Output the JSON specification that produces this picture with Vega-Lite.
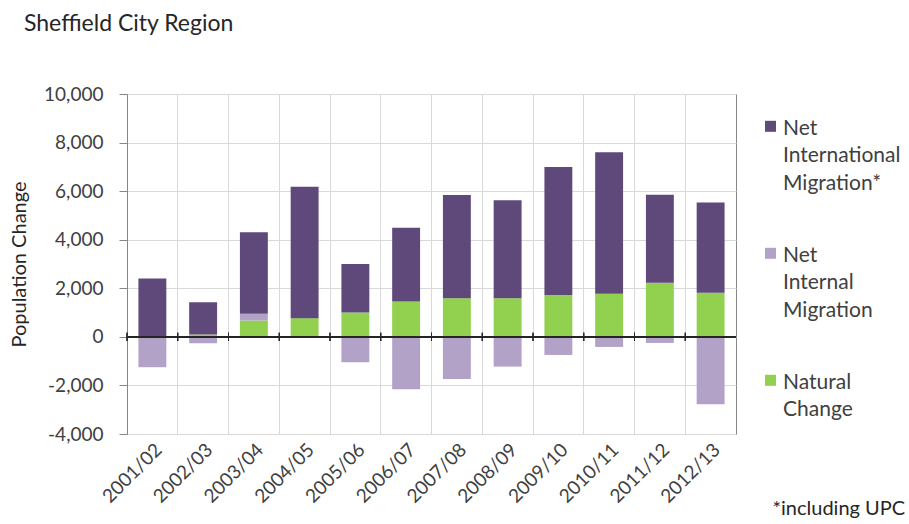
{
  "$schema": "https://vega.github.io/schema/vega-lite/v6.json",
  "width": 609,
  "height": 340,
  "autosize": "none",
  "padding": {"left": 127, "top": 94, "right": 173, "bottom": 90},
  "background": "white",
  "title": {
    "text": "Sheffield City Region",
    "anchor": "start",
    "frame": "group",
    "dx": -103,
    "offset": 49,
    "fontSize": 23,
    "fontWeight": "normal",
    "color": "#262626",
    "font": "Lato"
  },
  "data": {
    "values": [
      {"year": "2001/02", "component": "Natural Change", "value": 0},
      {"year": "2001/02", "component": "Net Internal Migration", "value": -1250},
      {"year": "2001/02", "component": "Net International Migration*", "value": 2400},
      {"year": "2002/03", "component": "Natural Change", "value": 100},
      {"year": "2002/03", "component": "Net Internal Migration", "value": -260},
      {"year": "2002/03", "component": "Net International Migration*", "value": 1330},
      {"year": "2003/04", "component": "Natural Change", "value": 670},
      {"year": "2003/04", "component": "Net Internal Migration", "value": 280},
      {"year": "2003/04", "component": "Net International Migration*", "value": 3360},
      {"year": "2004/05", "component": "Natural Change", "value": 770},
      {"year": "2004/05", "component": "Net Internal Migration", "value": -30},
      {"year": "2004/05", "component": "Net International Migration*", "value": 5415},
      {"year": "2005/06", "component": "Natural Change", "value": 1000},
      {"year": "2005/06", "component": "Net Internal Migration", "value": -1045},
      {"year": "2005/06", "component": "Net International Migration*", "value": 2000},
      {"year": "2006/07", "component": "Natural Change", "value": 1460},
      {"year": "2006/07", "component": "Net Internal Migration", "value": -2160},
      {"year": "2006/07", "component": "Net International Migration*", "value": 3030},
      {"year": "2007/08", "component": "Natural Change", "value": 1585},
      {"year": "2007/08", "component": "Net Internal Migration", "value": -1735},
      {"year": "2007/08", "component": "Net International Migration*", "value": 4255},
      {"year": "2008/09", "component": "Natural Change", "value": 1585},
      {"year": "2008/09", "component": "Net Internal Migration", "value": -1225},
      {"year": "2008/09", "component": "Net International Migration*", "value": 4045},
      {"year": "2009/10", "component": "Natural Change", "value": 1720},
      {"year": "2009/10", "component": "Net Internal Migration", "value": -745},
      {"year": "2009/10", "component": "Net International Migration*", "value": 5275},
      {"year": "2010/11", "component": "Natural Change", "value": 1775},
      {"year": "2010/11", "component": "Net Internal Migration", "value": -415},
      {"year": "2010/11", "component": "Net International Migration*", "value": 5825},
      {"year": "2011/12", "component": "Natural Change", "value": 2230},
      {"year": "2011/12", "component": "Net Internal Migration", "value": -250},
      {"year": "2011/12", "component": "Net International Migration*", "value": 3625},
      {"year": "2012/13", "component": "Natural Change", "value": 1815},
      {"year": "2012/13", "component": "Net Internal Migration", "value": -2770},
      {"year": "2012/13", "component": "Net International Migration*", "value": 3720}
    ]
  },
  "layer": [
    {
      "mark": {"type": "bar", "width": {"band": 0.55}},
      "encoding": {
        "x": {
          "field": "year",
          "type": "nominal",
          "sort": null,
          "scale": {"paddingInner": 0, "paddingOuter": 0},
          "axis": {
            "title": "*including UPC",
            "titleX": 645,
            "titleY": 74,
            "titleAlign": "left",
            "titleBaseline": "middle",
            "titleFontSize": 20,
            "titleFontWeight": "normal",
            "titleColor": "#262626",
            "labelAngle": -45,
            "labelFontSize": 19,
            "labelColor": "#404040",
            "labelPadding": 6,
            "ticks": false,
            "domain": false,
            "grid": true,
            "gridColor": "#D9D9D9",
            "bandPosition": 0
          }
        },
        "y": {
          "field": "value",
          "type": "quantitative",
          "stack": "zero",
          "scale": {"domain": [-4000, 10000], "nice": false},
          "axis": {
            "title": "Population Change",
            "titleFontSize": 20,
            "titleFontWeight": "normal",
            "titleColor": "#262626",
            "titleX": -108,
            "titleY": 170,
            "titleAngle": -90,
            "titleAlign": "center",
            "titleBaseline": "middle",
            "values": [-4000, -2000, 0, 2000, 4000, 6000, 8000, 10000],
            "format": ",d",
            "labelExpr": "replace(datum.label, '\u2212', '-')",
            "labelFontSize": 19,
            "labelColor": "#404040",
            "labelPadding": 16,
            "tickSize": 8,
            "tickColor": "#868686",
            "domainColor": "#868686",
            "gridColor": "#D9D9D9"
          }
        },
        "color": {
          "field": "component",
          "type": "nominal",
          "scale": {
            "domain": ["Net International Migration*", "Net Internal Migration", "Natural Change"],
            "range": ["#5F497A", "#B3A2C7", "#92D050"]
          },
          "legend": {
            "title": null,
            "orient": "none",
            "legendX": 633,
            "legendY": 13,
            "symbolType": "M-1,0.6L1,0.6L1,2.6L-1,2.6Z",
            "symbolSize": 121,
            "symbolStrokeWidth": 0,
            "labelFontSize": 21,
            "labelColor": "#404040",
            "labelOffset": 2,
            "labelLimit": 200,
            "labelBaseline": "top",
            "rowPadding": 40,
            "padding": 0,
            "labelExpr": "datum.label == 'Net International Migration*' ? ['Net', 'International', 'Migration*'] : datum.label == 'Net Internal Migration' ? ['Net', 'Internal', 'Migration'] : ['Natural', 'Change']"
          }
        },
        "order": {"field": "component", "sort": "ascending"}
      }
    },
    {
      "mark": {"type": "rule", "color": "#262626", "strokeWidth": 1},
      "encoding": {"y": {"datum": 0}}
    },
    {
      "mark": {"type": "rule", "color": "#262626", "strokeWidth": 1},
      "encoding": {
        "x": {"field": "year", "type": "nominal", "sort": null, "bandPosition": 0},
        "y": {"datum": -170},
        "y2": {"datum": 170}
      }
    }
  ],
  "config": {
    "font": "Lato",
    "view": {"stroke": "#868686", "strokeWidth": 1},
    "style": {"guide-label": {"lineHeight": 27.5}}
  }
}
